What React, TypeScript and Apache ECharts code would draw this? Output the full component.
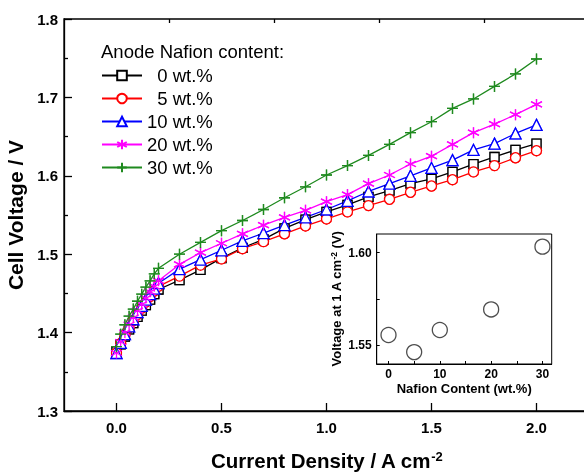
import React, { useEffect, useRef } from "react";
import * as echarts from "echarts";

const currentDensity = [0, 0.02, 0.04, 0.06, 0.08, 0.1, 0.12, 0.14, 0.16, 0.18, 0.2, 0.3, 0.4, 0.5, 0.6, 0.7, 0.8, 0.9, 1.0, 1.1, 1.2, 1.3, 1.4, 1.5, 1.6, 1.7, 1.8, 1.9, 2.0];
const v0 = [1.376, 1.385, 1.395, 1.404, 1.412, 1.420, 1.428, 1.435, 1.442, 1.449, 1.455, 1.467, 1.480, 1.495, 1.508, 1.519, 1.533, 1.544, 1.554, 1.563, 1.573, 1.581, 1.590, 1.596, 1.605, 1.615, 1.624, 1.633, 1.641];
const v5 = [1.374, 1.386, 1.397, 1.406, 1.415, 1.423, 1.431, 1.439, 1.446, 1.453, 1.459, 1.472, 1.486, 1.494, 1.507, 1.516, 1.526, 1.536, 1.545, 1.554, 1.562, 1.570, 1.579, 1.587, 1.595, 1.605, 1.613, 1.623, 1.632];
const v10 = [1.374, 1.387, 1.398, 1.408, 1.417, 1.426, 1.434, 1.442, 1.449, 1.456, 1.463, 1.481, 1.493, 1.505, 1.517, 1.527, 1.537, 1.547, 1.557, 1.568, 1.580, 1.590, 1.600, 1.610, 1.620, 1.633, 1.641, 1.654, 1.665];
const v20 = [1.374, 1.388, 1.400, 1.410, 1.419, 1.428, 1.436, 1.444, 1.452, 1.459, 1.466, 1.487, 1.502, 1.514, 1.526, 1.537, 1.547, 1.556, 1.567, 1.576, 1.590, 1.601, 1.615, 1.625, 1.640, 1.655, 1.666, 1.678, 1.691];
const v30 = [1.382, 1.398, 1.410, 1.421, 1.430, 1.440, 1.449, 1.458, 1.466, 1.475, 1.482, 1.500, 1.515, 1.530, 1.543, 1.557, 1.572, 1.586, 1.601, 1.613, 1.626, 1.640, 1.655, 1.669, 1.686, 1.698, 1.714, 1.730, 1.749];

const seriesNames = ["0 wt.%", "5 wt.%", "10 wt.%", "20 wt.%", "30 wt.%"];

const nafionContent = [0, 5, 10, 20, 30];
const voltageAt1A = [1.5556, 1.5464, 1.5583, 1.5694, 1.6032];

const xMajorTicks = [0, 0.5, 1.0, 1.5, 2.0];
const xMinorTicks = [0.25, 0.75, 1.25, 1.75];
const insetXLabels = [0, 10, 20, 30];
const insetXTicks = [0, 5, 10, 15, 20, 25, 30];
const insetYLabels = [1.55, 1.6];
const insetYTicks = [1.55, 1.575, 1.6];

const FONT = "'Liberation Sans', Arial, sans-serif";
const ASTERISK = "path://M5,0L5,10M0.67,2.5L9.33,7.5M0.67,7.5L9.33,2.5";
const PLUS = "path://M0,5L10,5M5,0L5,10";

const pairs = (ys: number[]) => currentDensity.map((x, i) => [x, ys[i]]);
const sparsePairs = (ys: number[]) =>
  currentDensity.map((x, i) => [x, ys[i]]).filter((p) => p[0] >= 0.25);

export default function App() {
  const ref = useRef<HTMLDivElement>(null);
  useEffect(() => {
    if (!ref.current) return;
    const chart = echarts.init(ref.current, undefined, { renderer: "svg" });
    const lw = 1.3;
    const specs = [
      { name: seriesNames[0], ys: v0, color: "#000000", symbol: "rect", size: 9, fill: "#ffffff" },
      { name: seriesNames[1], ys: v5, color: "#ff0000", symbol: "circle", size: 10, fill: "#ffffff" },
      { name: seriesNames[2], ys: v10, color: "#0000ff", symbol: "triangle", size: 11, fill: "#ffffff" },
      { name: seriesNames[3], ys: v20, color: "#ff00ff", symbol: ASTERISK, size: 11, fill: "none" },
      { name: seriesNames[4], ys: v30, color: "#1f8a1f", symbol: PLUS, size: 11, fill: "none" },
    ];
    const lineSeries = specs.map((s) => ({
      name: s.name,
      type: "line",
      data: pairs(s.ys),
      xAxisIndex: 0,
      yAxisIndex: 0,
      symbol: s.symbol,
      symbolSize: s.size,
      lineStyle: { color: s.color, width: lw },
      itemStyle: { color: s.fill, borderColor: s.color, borderWidth: lw },
      emphasis: { disabled: true },
    }));
    const gapSeries = [
      { src: specs[3], size: 9 },
      { src: specs[4], size: 12 },
    ].map((g, k) => ({
      name: "gap" + k,
      type: "scatter",
      xAxisIndex: 0,
      yAxisIndex: 0,
      data: sparsePairs(g.src.ys),
      symbol: "circle",
      symbolSize: g.size,
      itemStyle: { color: "#ffffff", borderWidth: 0 },
      emphasis: { disabled: true },
      silent: true,
    }));
    const symbolSeries = specs.map((s, k) => ({
      name: "sym" + k,
      type: "scatter",
      xAxisIndex: 0,
      yAxisIndex: 0,
      data: pairs(s.ys),
      symbol: s.symbol,
      symbolSize: s.size,
      itemStyle: { color: s.fill, borderColor: s.color, borderWidth: lw },
      emphasis: { disabled: true },
      silent: true,
    }));
    chart.setOption({
      animation: false,
      textStyle: { fontFamily: FONT, color: "#000" },
      title: {
        text: "Anode Nafion content:",
        left: 101,
        top: 42,
        padding: 0,
        textStyle: { fontSize: 18.5, fontWeight: "normal", color: "#000", fontFamily: FONT },
      },
      legend: {
        orient: "vertical",
        left: 101,
        top: 66,
        padding: 0,
        itemWidth: 40,
        itemHeight: 12,
        itemGap: 4,
        data: seriesNames,
        formatter: (name: string) => {
          const parts = name.split(" ");
          const n = parts[0].length < 2 ? "\u2007" + parts[0] : parts[0];
          return n + " " + parts[1];
        },
        textStyle: {
          fontSize: 18.5,
          lineHeight: 18,
          color: "#000",
          fontFamily: FONT,
        },
      },
      grid: [
        {
          left: 64,
          top: 19,
          width: 525,
          height: 392,
          outerBoundsMode: "none",
          containLabel: false,
          show: true,
          borderColor: "#000",
          borderWidth: lw,
          backgroundColor: "transparent",
        },
        {
          left: 376.7,
          top: 234,
          width: 175,
          height: 130,
          outerBoundsMode: "none",
          containLabel: false,
          show: true,
          borderColor: "#000",
          borderWidth: 1,
          backgroundColor: "#fff",
        },
      ],
      xAxis: [
        {
          type: "value",
          gridIndex: 0,
          min: -0.25,
          max: 2.25,
          interval: 0.25,
          axisLine: { onZero: false, lineStyle: { color: "#000", width: lw } },
          axisTick: { inside: true, length: 8, customValues: xMajorTicks, lineStyle: { color: "#000", width: lw } },
          axisLabel: {
            margin: 9,
            fontSize: 15,
            fontWeight: "bold",
            color: "#000",
            fontFamily: FONT,
            formatter: (v: number) => (Math.abs(v * 2 - Math.round(v * 2)) < 1e-6 ? v.toFixed(1) : ""),
          },
          splitLine: { show: false },
          name: "Current Density / A cm{s|-2}",
          nameLocation: "middle",
          nameGap: 39,
          nameTextStyle: {
            fontSize: 20.5,
            fontWeight: "bold",
            color: "#000",
            fontFamily: FONT,
            rich: { s: { fontSize: 13, fontWeight: "bold", verticalAlign: "top", fontFamily: FONT, color: "#000" } },
          },
        },
        {
          type: "value",
          gridIndex: 0,
          min: -0.25,
          max: 2.25,
          interval: 0.25,
          axisLine: { show: false, onZero: false },
          axisTick: { inside: true, length: 4, customValues: xMinorTicks, lineStyle: { color: "#000", width: lw } },
          axisLabel: { show: false },
          splitLine: { show: false },
        },
        {
          type: "value",
          gridIndex: 1,
          min: -2.3,
          max: 31.8,
          axisLine: { onZero: false, lineStyle: { color: "#000", width: 1 } },
          axisTick: { inside: true, length: 3, customValues: insetXTicks, lineStyle: { color: "#000", width: 1 } },
          axisLabel: {
            customValues: insetXLabels,
            margin: 4,
            fontSize: 12,
            fontWeight: "bold",
            color: "#000",
            fontFamily: FONT,
          },
          splitLine: { show: false },
          name: "Nafion Content (wt.%)",
          nameLocation: "middle",
          nameGap: 18,
          nameTextStyle: { fontSize: 13, fontWeight: "bold", color: "#000", fontFamily: FONT },
        },
      ],
      yAxis: [
        {
          type: "value",
          gridIndex: 0,
          min: 1.3,
          max: 1.8,
          interval: 0.1,
          axisLine: { show: true, onZero: false, lineStyle: { color: "#000", width: lw } },
          axisTick: { show: true, inside: true, length: 8, lineStyle: { color: "#000", width: lw } },
          minorTick: { show: true, splitNumber: 2, length: 4, lineStyle: { color: "#000", width: lw } },
          axisLabel: {
            margin: 6,
            fontSize: 15,
            fontWeight: "bold",
            color: "#000",
            fontFamily: FONT,
            formatter: (v: number) => v.toFixed(1),
          },
          splitLine: { show: false },
          name: "Cell Voltage / V",
          nameLocation: "middle",
          nameGap: 35,
          nameTextStyle: { fontSize: 21, fontWeight: "bold", color: "#000", fontFamily: FONT },
        },
        {
          type: "value",
          gridIndex: 1,
          min: 1.54,
          max: 1.61,
          axisLine: { show: true, onZero: false, lineStyle: { color: "#000", width: 1 } },
          axisTick: { show: true, inside: true, length: 3, customValues: insetYTicks, lineStyle: { color: "#000", width: 1 } },
          axisLabel: {
            customValues: insetYLabels,
            margin: 5,
            fontSize: 12,
            fontWeight: "bold",
            color: "#000",
            fontFamily: FONT,
            formatter: (v: number) => v.toFixed(2),
          },
          splitLine: { show: false },
          name: "Voltage at 1 A cm{s|-2} (V)",
          nameLocation: "middle",
          nameGap: 34,
          nameTextStyle: {
            fontSize: 13,
            fontWeight: "bold",
            color: "#000",
            fontFamily: FONT,
            rich: { s: { fontSize: 8.5, fontWeight: "bold", verticalAlign: "top", fontFamily: FONT, color: "#000" } },
          },
        },
      ],
      series: [
        ...lineSeries,
        ...gapSeries,
        ...symbolSeries,
        {
          name: "inset",
          type: "scatter",
          xAxisIndex: 2,
          yAxisIndex: 1,
          data: nafionContent.map((x, i) => [x, voltageAt1A[i]]),
          symbol: "circle",
          symbolSize: 15,
          itemStyle: { color: "#ffffff", borderColor: "#222", borderWidth: 1.3 },
          emphasis: { disabled: true },
        },
      ],
    });
    return () => chart.dispose();
  }, []);
  return (
    <div
      ref={ref}
      style={{ position: "fixed", left: 0, top: 0, width: 584, height: 472 }}
    />
  );
}
